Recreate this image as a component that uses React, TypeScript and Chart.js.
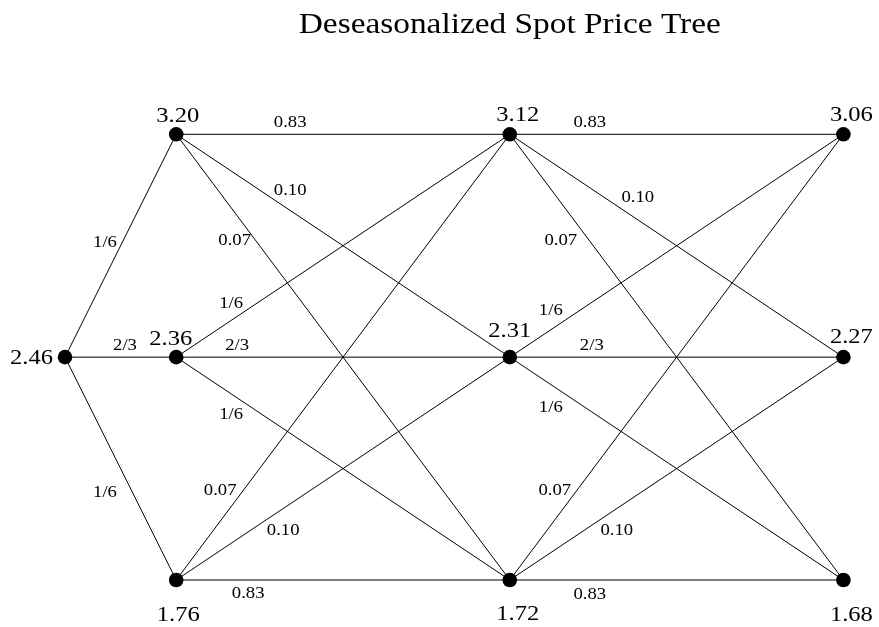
import React, { useEffect, useRef } from "react";
import { Chart, registerables } from "chart.js";

Chart.register(...registerables);

// ---- data ----
const title = "Deseasonalized Spot Price Tree";
const times = [0, 1, 4, 7];
const levels = [1, 0, -1]; // up, middle, down
const rootPrice = [2.46];
const pricesT1 = [3.2, 2.36, 1.76];
const pricesT4 = [3.12, 2.31, 1.72];
const pricesT7 = [3.06, 2.27, 1.68];
const probsFromRoot = ["1/6", "2/3", "1/6"];
const probsFromUp = ["0.83", "0.10", "0.07"];
const probsFromMid = ["1/6", "2/3", "1/6"];
const probsFromDown = ["0.07", "0.10", "0.83"];

// ---- styles (pixel offsets for text, not data) ----
const FONT = '"Liberation Serif", "Times New Roman", serif';
const nodeLabelOffsets: Record<string, [number, number, string]> = {
  "0-1": [-12, 7, "right"],
  "1-0": [1.5, -12.5, "center"],
  "1-1": [-5.5, -12, "center"],
  "1-2": [2, 41, "center"],
  "2-0": [8, -13, "center"],
  "2-1": [0, -20, "center"],
  "2-2": [8, 40, "center"],
  "3-0": [8, -13, "center"],
  "3-1": [8, -14, "center"],
  "3-2": [8, 41, "center"],
};
// edge label offset from source node, keyed "col-fromLevel-toLevel"
const edgeLabelOffsets: Record<string, [number, number]> = {
  "0-1-0": [40, -115],
  "0-1-1": [60, -12],
  "0-1-2": [40, 135],
  "1-0-0": [114, -12],
  "1-0-1": [114, 56],
  "1-0-2": [58.5, 106],
  "1-1-0": [55, -54],
  "1-1-1": [61, -12],
  "1-1-2": [55, 57],
  "1-2-0": [44, -89],
  "1-2-1": [107, -49],
  "1-2-2": [72, 14],
  "2-0-0": [80, -12],
  "2-0-1": [128, 63],
  "2-0-2": [51, 106],
  "2-1-0": [41, -47],
  "2-1-1": [82, -12],
  "2-1-2": [41, 50],
  "2-2-0": [45, -89],
  "2-2-1": [107, -49],
  "2-2-2": [80, 15],
};

type Node = { col: number; lvl: number; x: number; y: number; price: number };
type Edge = { from: Node; to: Node; prob: string; key: string };

function buildTree() {
  const nodes: Node[][] = [];
  nodes.push([{ col: 0, lvl: 1, x: times[0], y: levels[1], price: rootPrice[0] }]);
  [pricesT1, pricesT4, pricesT7].forEach((col, ci) => {
    nodes.push(col.map((p, li) => ({ col: ci + 1, lvl: li, x: times[ci + 1], y: levels[li], price: p })));
  });
  const edges: Edge[] = [];
  nodes[0].forEach((r) =>
    nodes[1].forEach((c, li) =>
      edges.push({ from: r, to: c, prob: probsFromRoot[li], key: `0-1-${li}` })
    )
  );
  for (let ci = 1; ci < 3; ci++) {
    nodes[ci].forEach((src, si) => {
      const probs = si === 0 ? probsFromUp : si === 1 ? probsFromMid : probsFromDown;
      nodes[ci + 1].forEach((dst, di) =>
        edges.push({ from: src, to: dst, prob: probs[di], key: `${ci}-${si}-${di}` })
      );
    });
  }
  return { nodes, edges };
}

function drawText(ctx: CanvasRenderingContext2D, text: string, x: number, y: number, sx: number, align: string, baseline: string) {
  ctx.save();
  ctx.translate(x, y);
  ctx.scale(sx, 1);
  ctx.textAlign = align as CanvasTextAlign;
  ctx.textBaseline = baseline as CanvasTextBaseline;
  ctx.fillText(text, 0, 0);
  ctx.restore();
}

export default function App() {
  const ref = useRef<HTMLCanvasElement>(null);
  useEffect(() => {
    if (!ref.current) return;
    document.body.style.margin = "0";
    const { nodes, edges } = buildTree();
    const allNodes = nodes.flat();

    const edgeSets = edges.map((e) => ({
      type: "scatter" as const,
      data: [
        { x: e.from.x, y: e.from.y },
        { x: e.to.x, y: e.to.y },
      ],
      showLine: true,
      borderColor: "#000",
      borderWidth: 1,
      pointRadius: 0,
      clip: false as any,
    }));

    const labelPlugin = {
      id: "treeLabels",
      afterDatasetsDraw(chart: any) {
        const ctx = chart.ctx as CanvasRenderingContext2D;
        const xs = chart.scales.x;
        const ys = chart.scales.y;
        ctx.save();
        ctx.fillStyle = "#000";
        // title
        ctx.font = `29px ${FONT}`;
        drawText(ctx, title, xs.getPixelForValue(times[2]), 33, 1.15, "center", "alphabetic");
        // node labels
        ctx.font = `21px ${FONT}`;
        allNodes.forEach((n) => {
          const off = nodeLabelOffsets[`${n.col}-${n.lvl}`] || [0, -12, "center"];
          drawText(
            ctx,
            n.price.toFixed(2),
            xs.getPixelForValue(n.x) + off[0],
            ys.getPixelForValue(n.y) + off[1],
            1.17,
            off[2],
            "alphabetic"
          );
        });
        // edge labels
        ctx.font = `17px ${FONT}`;
        edges.forEach((e) => {
          const off = edgeLabelOffsets[e.key] || [60, -12];
          drawText(
            ctx,
            e.prob,
            xs.getPixelForValue(e.from.x) + off[0],
            ys.getPixelForValue(e.from.y) + off[1],
            1.1,
            "center",
            "middle"
          );
        });
        ctx.restore();
      },
    };

    const chart = new Chart(ref.current, {
      type: "scatter",
      data: {
        datasets: [
          ...edgeSets,
          {
            type: "scatter" as const,
            data: allNodes.map((n) => ({ x: n.x, y: n.y })),
            showLine: false,
            pointRadius: 7.3,
            pointHoverRadius: 7.3,
            backgroundColor: "#000",
            borderColor: "#000",
            borderWidth: 0,
            clip: false as any,
          },
        ] as any,
      },
      options: {
        animation: false,
        responsive: false,
        devicePixelRatio: 1,
        layout: { padding: { left: 65, right: 35.6, top: 134.3, bottom: 47 } },
        scales: {
          x: { type: "linear", display: false, min: 0, max: 7 },
          y: { type: "linear", display: false, min: -1, max: 1 },
        },
        plugins: {
          legend: { display: false },
          tooltip: { enabled: false },
          title: { display: false },
        },
        events: [],
      },
      plugins: [labelPlugin],
    });
    return () => chart.destroy();
  }, []);

  return (
    <canvas
      ref={ref}
      width={879}
      height={627}
      style={{ display: "block", width: "879px", height: "627px" }}
    />
  );
}
